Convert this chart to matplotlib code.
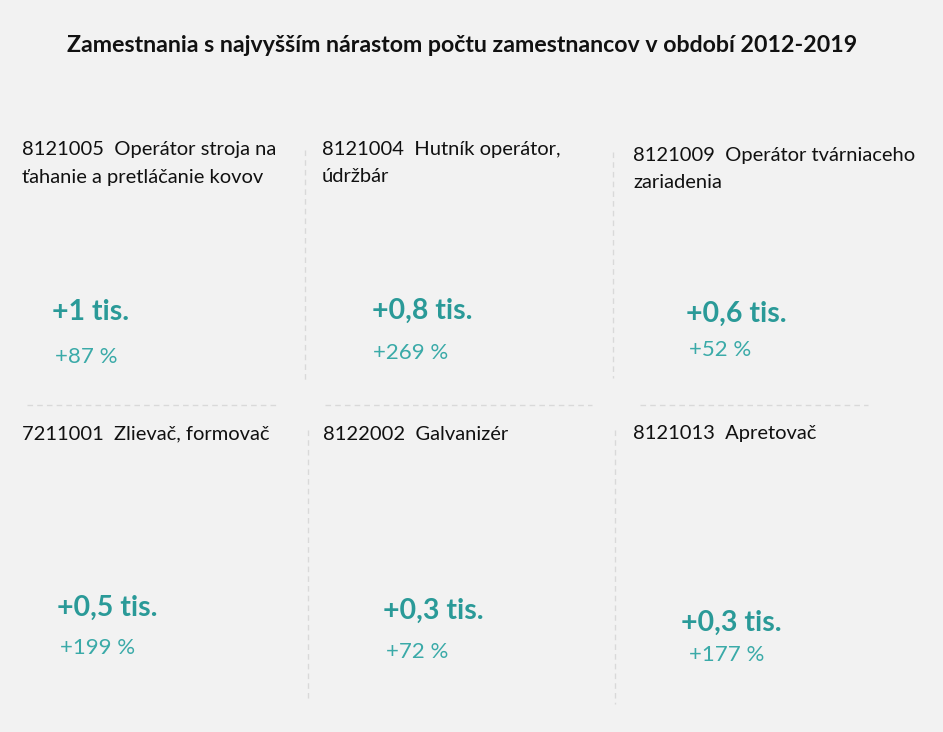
import matplotlib
matplotlib.use("Agg")
import matplotlib.pyplot as plt

title = "Zamestnania s najvyšším nárastom počtu zamestnancov v období 2012-2019"
codes = ["8121005", "8121004", "8121009", "7211001", "8122002", "8121013"]
names = [
    "Operátor stroja na\nťahanie a pretláčanie kovov",
    "Hutník operátor,\núdržbár",
    "Operátor tvárniaceho\nzariadenia",
    "Zlievač, formovač",
    "Galvanizér",
    "Apretovač",
]
increase_tis = ["+1", "+0,8", "+0,6", "+0,5", "+0,3", "+0,3"]
increase_pct = [87, 269, 52, 199, 72, 177]

# layout (pixel coordinates, origin top-left)
label_pos = [(22, 141), (322, 141), (633, 147), (22, 425), (323, 426), (633, 425)]
value_pos = [(52, 312), (372, 311), (686, 314), (57, 608), (383, 611), (681, 623)]
pct_pos = [(55, 357), (373, 353), (689, 350), (60, 648), (386, 652), (689, 655)]

BG = "#f2f2f2"
TEAL = "#2a9a98"
TEAL2 = "#3aaaa8"
DASH = "#d9d9d9"
FONT = ["Lato", "DejaVu Sans"]

fig = plt.figure(figsize=(9.43, 7.32), dpi=100, facecolor=BG)
ax = fig.add_axes([0, 0, 1, 1])
ax.set_xlim(0, 943)
ax.set_ylim(732, 0)
ax.axis("off")
ax.set_facecolor(BG)

ax.text(462, 45, title, ha="center", va="center", fontsize=16.7,
        fontweight="bold", color="#111111", family=FONT)

for i in range(6):
    lx, ly = label_pos[i]
    ax.text(lx, ly, f"{codes[i]}  {names[i]}", ha="left", va="top",
            fontsize=14.5, color="#111111", family=FONT, linespacing=1.75)
    vx, vy = value_pos[i]
    ax.text(vx, vy, f"{increase_tis[i]} tis.", ha="left", va="center",
            fontsize=20.5, fontweight="bold", color=TEAL, family=FONT)
    px, py = pct_pos[i]
    ax.text(px, py, f"+{increase_pct[i]} %", ha="left", va="center",
            fontsize=16, color=TEAL2, family=FONT)

vlines = [(305, 150, 380), (613, 152, 378), (308, 430, 702), (615, 430, 704)]
for x, y0, y1 in vlines:
    ax.plot([x, x], [y0, y1], color=DASH, lw=1.0, ls=(0, (4, 3)))
hlines = [(27, 277, 405), (325, 592, 405), (640, 868, 405)]
for x0, x1, y in hlines:
    ax.plot([x0, x1], [y, y], color=DASH, lw=1.0, ls=(0, (4, 3)))

fig.savefig("out.png", dpi=100, facecolor=BG)
